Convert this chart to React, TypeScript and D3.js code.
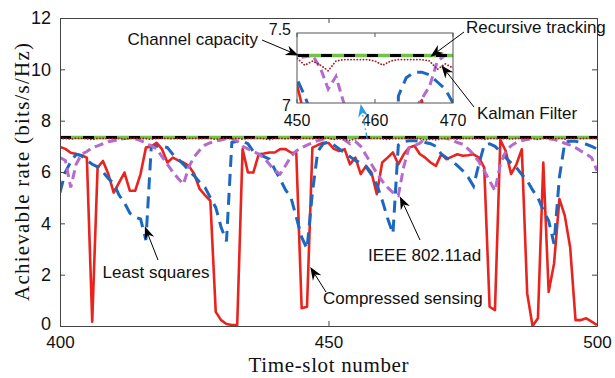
import React, { useEffect, useRef } from "react";
import * as d3 from "d3";

// time slots 400..500
const slots = d3.range(400, 501);

const compressedSensing = [
  6.98, 6.9, 6.75, 6.7, 6.65, 6.56, 0.17, 6.17, 6.43, 5.92,
  5.2, 5.59, 5.98, 5.27, 5.27, 5.92, 6.95, 7.0, 7.14, 6.89,
  6.37, 6.56, 6.45, 6.37, 6.24, 5.92, 5.34, 5.1, 4.88, 0.55,
  0.23, 0.08, 0.04, 0.04, 6.89, 5.98, 5.98, 6.69, 6.72, 6.76,
  6.76, 6.89, 6.89, 6.76, 6.75, 0.69, 0.75, 6.95, 7.05, 7.14,
  7.13, 6.9, 6.82, 6.89, 6.3, 6.56, 5.92, 6.24, 5.98, 5.14,
  6.37, 6.56, 6.76, 6.3, 6.69, 6.95, 7.02, 6.7, 6.56, 6.37,
  6.24, 6.69, 6.5, 6.6, 6.69, 6.63, 6.65, 6.69, 6.56, 6.17,
  0.75, 0.62, 7.25, 6.82, 5.92, 6.3, 6.89, 1.27, 0.0, 0.3,
  6.37, 1.33, 2.43, 4.95, 4.3, 3.07, 0.23, 0.23, 0.3, 0.17,
  0.04,
];

const leastSquares = [
  5.2, 6.0, 6.4, 6.69, 6.63, 6.45, 6.3, 6.2, 6.0, 5.75,
  5.55, 5.1, 4.8, 4.4, 4.24, 4.17, 3.35, 7.0, 7.0, 7.0,
  6.95, 6.69, 6.5, 6.3, 6.05, 5.85, 5.6, 5.4, 5.0, 4.62,
  3.85, 3.3, 7.15, 7.2, 7.2, 7.1, 6.8, 6.7, 6.6, 6.5,
  6.1, 5.72, 5.3, 5.01, 4.24, 3.46, 3.01, 5.2, 6.8, 7.1,
  7.17, 7.05, 6.9, 6.75, 6.6, 6.45, 6.35, 6.2, 5.9, 5.5,
  4.9, 4.2, 3.6, 7.05, 7.18, 7.22, 7.22, 7.2, 7.15, 7.1,
  7.0, 6.7, 6.55, 6.43, 6.25, 6.05, 5.8, 5.45, 6.3, 7.05,
  7.1, 7.0, 6.8, 6.56, 6.35, 6.17, 5.9, 5.66, 5.3, 5.0,
  4.5, 4.1, 3.2, 5.8, 7.15, 7.2, 7.2, 7.15, 7.08, 7.0,
  6.9,
];

const ieee80211ad = [
  6.56, 6.45, 5.4, 6.3, 6.69, 6.8, 6.95, 7.02, 7.1, 7.18,
  7.22, 7.27, 7.3, 7.33, 7.3, 7.22, 7.12, 7.02, 6.9, 6.6,
  6.3, 6.0, 5.75, 5.53, 6.2, 6.6, 6.85, 7.05, 7.14, 7.2,
  7.25, 7.3, 7.3, 7.2, 7.0, 6.9, 6.8, 6.7, 6.55, 6.3,
  6.05, 5.92, 6.25, 6.6, 6.82, 6.95, 7.05, 7.14, 7.22, 7.28,
  7.32, 7.33, 7.34, 7.25, 7.1, 7.19, 7.0, 6.65, 6.3, 5.95,
  5.65, 5.4, 5.2, 5.08, 6.2, 6.95, 7.03, 7.12, 7.3, 7.34,
  7.34, 7.34, 7.3, 7.25, 7.15, 7.08, 6.9, 6.69, 6.4, 6.05,
  5.66, 5.27, 6.3, 6.8, 7.02, 7.15, 7.22, 7.27, 7.3, 7.33,
  7.33, 7.3, 7.27, 7.2, 7.12, 7.05, 6.95, 6.82, 6.7, 6.56,
  6.05,
];

const kalmanFilter = [
  7.3, 7.31, 7.28, 7.31, 7.31, 7.3, 7.26, 7.31, 7.31, 7.31,
  7.3, 7.31, 7.28, 7.31, 7.31, 7.31, 7.3, 7.27, 7.31, 7.31,
  7.31, 7.3, 7.31, 7.28, 7.31, 7.31, 7.3, 7.31, 7.31, 7.27,
  7.31, 7.31, 7.3, 7.31, 7.28, 7.31, 7.31, 7.31, 7.3, 7.26,
  7.31, 7.31, 7.3, 7.31, 7.28, 7.31, 7.31, 7.3, 7.31, 7.31,
  7.32, 7.27, 7.3, 7.27, 7.23, 7.3, 7.31, 7.31, 7.31, 7.31,
  7.3, 7.27, 7.3, 7.31, 7.31, 7.31, 7.31, 7.3, 7.24, 7.28,
  7.25, 7.3, 7.31, 7.31, 7.28, 7.31, 7.31, 7.3, 7.31, 7.27,
  7.31, 7.31, 7.3, 7.31, 7.28, 7.31, 7.31, 7.31, 7.3, 7.27,
  7.31, 7.31, 7.3, 7.31, 7.28, 7.31, 7.31, 7.3, 7.31, 7.31,
  7.3,
];

const recursiveTracking = [
  7.34, 7.34, 7.34, 7.34, 7.34, 7.34, 7.34, 7.34, 7.34, 7.34,
  7.34, 7.34, 7.34, 7.34, 7.34, 7.34, 7.34, 7.34, 7.34, 7.34,
  7.34, 7.34, 7.34, 7.34, 7.34, 7.34, 7.34, 7.34, 7.34, 7.34,
  7.34, 7.34, 7.34, 7.34, 7.34, 7.34, 7.34, 7.34, 7.34, 7.34,
  7.34, 7.34, 7.34, 7.34, 7.34, 7.34, 7.34, 7.34, 7.34, 7.34,
  7.34, 7.34, 7.34, 7.34, 7.34, 7.34, 7.34, 7.34, 7.34, 7.34,
  7.34, 7.34, 7.34, 7.34, 7.34, 7.34, 7.34, 7.34, 7.34, 7.34,
  7.34, 7.34, 7.34, 7.34, 7.34, 7.34, 7.34, 7.34, 7.34, 7.34,
  7.34, 7.34, 7.34, 7.34, 7.34, 7.34, 7.34, 7.34, 7.34, 7.34,
  7.34, 7.34, 7.34, 7.34, 7.34, 7.34, 7.34, 7.34, 7.34, 7.34,
  7.34,
];

const channelCapacity = 7.34;

const xTicks = [400, 450, 500];
const yTicks = [0, 2, 4, 6, 8, 10, 12];
const insetXTicks = [450, 460, 470];
const insetYTicks = [7, 7.5];

const W = 615, H = 378;
const margin = { top: 18, right: 18, bottom: 52, left: 60 };
const inset = { left: 297, top: 33, width: 156, height: 70 };

const SANS = "'Liberation Sans', Arial, sans-serif";
const SERIF = "'Liberation Serif', 'Times New Roman', serif";

function drawSeries(g, xs, ys) {
  const line = d3.line<number>().x((_, i) => xs(slots[i])).y((d) => ys(d));
  g.append("path").attr("d", line(compressedSensing))
    .attr("fill", "none").attr("stroke", "#e8241f").attr("stroke-width", 2.6)
    .attr("stroke-linejoin", "round");
  g.append("path").attr("d", line(leastSquares))
    .attr("fill", "none").attr("stroke", "#1c68c0").attr("stroke-width", 3)
    .attr("stroke-dasharray", "12,7");
  g.append("path").attr("d", line(ieee80211ad))
    .attr("fill", "none").attr("stroke", "#b56acd").attr("stroke-width", 3)
    .attr("stroke-dasharray", "9,5");
  const [d0, d1] = xs.domain();
  g.append("line")
    .attr("x1", xs(d0)).attr("x2", xs(d1))
    .attr("y1", ys(channelCapacity)).attr("y2", ys(channelCapacity))
    .attr("stroke", "#72c247").attr("stroke-width", 3.5);
  g.append("path").attr("d", line(recursiveTracking))
    .attr("fill", "none").attr("stroke", "#000").attr("stroke-width", 3)
    .attr("stroke-dasharray", "11,12");
  g.append("path").attr("d", line(kalmanFilter))
    .attr("fill", "none").attr("stroke", "#a81c1c").attr("stroke-width", 1.8)
    .attr("stroke-linecap", "round").attr("stroke-dasharray", "0.1,3");
}

function arrow(g, x1, y1, x2, y2, color = "#000", width = 1, dash = null) {
  const a = Math.atan2(y2 - y1, x2 - x1);
  const ux = Math.cos(a), uy = Math.sin(a);
  const px = -uy, py = ux;
  const len = 13, half = 5, notch = 9;
  const nx = x2 - ux * notch, ny = y2 - uy * notch;
  const ln = g.append("line")
    .attr("x1", x1).attr("y1", y1).attr("x2", nx).attr("y2", ny)
    .attr("stroke", color).attr("stroke-width", width);
  if (dash) ln.attr("stroke-dasharray", dash);
  const pts = [
    [x2, y2],
    [x2 - ux * len + px * half, y2 - uy * len + py * half],
    [nx, ny],
    [x2 - ux * len - px * half, y2 - uy * len - py * half],
  ];
  g.append("polygon").attr("points", pts.map((p) => p.join(",")).join(" ")).attr("fill", color);
}

function label(g, x, y, text, anchor = "start") {
  g.append("text").attr("x", x).attr("y", y).attr("text-anchor", anchor)
    .attr("font-family", SANS).attr("font-size", 17).attr("fill", "#111").text(text);
}

export default function App() {
  const ref = useRef<SVGSVGElement>(null);

  useEffect(() => {
    const svg = d3.select(ref.current);
    svg.selectAll("*").remove();

    const x = d3.scaleLinear().domain([400, 500]).range([margin.left, W - margin.right]);
    const y = d3.scaleLinear().domain([0, 12]).range([H - margin.bottom, margin.top]);

    const defs = svg.append("defs");
    defs.append("clipPath").attr("id", "clip-main").append("rect")
      .attr("x", margin.left).attr("y", margin.top)
      .attr("width", W - margin.left - margin.right).attr("height", H - margin.top - margin.bottom);
    defs.append("clipPath").attr("id", "clip-inset").append("rect")
      .attr("x", inset.left).attr("y", inset.top)
      .attr("width", inset.width).attr("height", inset.height);

    svg.append("rect").attr("width", W).attr("height", H).attr("fill", "#fff");

    drawSeries(svg.append("g").attr("clip-path", "url(#clip-main)"), x, y);

    // axes (MATLAB box with inward ticks)
    const styleAxis = (g, labels, size = 18) => {
      g.selectAll("path").attr("stroke", "#444");
      g.selectAll("line").attr("stroke", "#444");
      g.selectAll("text").attr("font-family", SANS).attr("font-size", size).attr("fill", "#111");
      if (!labels) g.selectAll("text").remove();
    };
    const bottom = svg.append("g").attr("transform", `translate(0,${H - margin.bottom})`)
      .call(d3.axisBottom(x).tickValues(xTicks).tickSizeInner(-5).tickSizeOuter(0).tickPadding(10));
    styleAxis(bottom, true, 17);
    const top = svg.append("g").attr("transform", `translate(0,${margin.top})`)
      .call(d3.axisTop(x).tickValues(xTicks).tickSizeInner(-5).tickSizeOuter(0));
    styleAxis(top, false);
    const left = svg.append("g").attr("transform", `translate(${margin.left},0)`)
      .call(d3.axisLeft(y).tickValues(yTicks).tickSizeInner(-5).tickSizeOuter(0).tickPadding(9));
    styleAxis(left, true, 18);
    left.selectAll(".tick text").filter((d) => d === 0).attr("dy", "0.2em");
    const right = svg.append("g").attr("transform", `translate(${W - margin.right},0)`)
      .call(d3.axisRight(y).tickValues(yTicks).tickSizeInner(-5).tickSizeOuter(0));
    styleAxis(right, false);

    svg.append("text")
      .attr("x", (margin.left + W - margin.right) / 2).attr("y", 372)
      .attr("text-anchor", "middle").attr("font-family", SERIF).attr("font-size", 21)
      .attr("fill", "#111")
      .attr("textLength", 160).attr("lengthAdjust", "spacing")
      .text("Time-slot number");
    svg.append("text")
      .attr("transform", `translate(29,${(margin.top + H - margin.bottom) / 2}) rotate(-90)`)
      .attr("text-anchor", "middle").attr("font-family", SERIF).attr("font-size", 21)
      .attr("fill", "#111")
      .attr("textLength", 258).attr("lengthAdjust", "spacing")
      .text("Achievable rate (bits/s/Hz)");

    // inset zoom 450-470
    const xi = d3.scaleLinear().domain([450, 470]).range([inset.left, inset.left + inset.width]);
    const yi = d3.scaleLinear().domain([7, 7.5]).range([inset.top + inset.height, inset.top]);
    svg.append("rect").attr("x", inset.left).attr("y", inset.top)
      .attr("width", inset.width).attr("height", inset.height).attr("fill", "#fff");
    drawSeries(svg.append("g").attr("clip-path", "url(#clip-inset)"), xi, yi);
    svg.append("rect").attr("x", inset.left).attr("y", inset.top)
      .attr("width", inset.width).attr("height", inset.height)
      .attr("fill", "none").attr("stroke", "#555").attr("stroke-width", 1);
    const ig = svg.append("g");
    insetXTicks.forEach((t) => {
      ig.append("line").attr("x1", xi(t)).attr("x2", xi(t))
        .attr("y1", inset.top).attr("y2", inset.top + 4).attr("stroke", "#555");
      ig.append("line").attr("x1", xi(t)).attr("x2", xi(t))
        .attr("y1", inset.top + inset.height).attr("y2", inset.top + inset.height - 4).attr("stroke", "#555");
      ig.append("text").attr("x", xi(t)).attr("y", inset.top + inset.height + 23)
        .attr("text-anchor", "middle").attr("font-family", SANS).attr("font-size", 16)
        .attr("fill", "#111").text(String(t));
    });
    insetYTicks.forEach((v) => {
      ig.append("text").attr("x", inset.left - 6).attr("y", yi(v) + (v === 7 ? 8 : 2))
        .attr("text-anchor", "end").attr("font-family", SANS).attr("font-size", 16)
        .attr("fill", "#111").text(String(v));
    });

    // blue dash-dot pointer from main curve to the inset
    arrow(svg, x(457.2), y(7.3), x(456.0), yi(7) + 1, "#2c9be2", 1.4, "6,3,1.5,3");

    // annotations
    const ag = svg.append("g");
    arrow(ag, 262, 40, xi(450.2), yi(channelCapacity));
    label(ag, 258, 45, "Channel capacity", "end");
    arrow(ag, 464, 32, xi(467.1), yi(7.33));
    label(ag, 466, 33, "Recursive tracking");
    arrow(ag, 474, 107, xi(468.5), yi(7.27));
    label(ag, 477, 119, "Kalman Filter");
    arrow(ag, 158, 260, x(415.8), y(3.88));
    label(ag, 156, 278, "Least squares", "middle");
    arrow(ag, 326, 292, x(446.6), y(2.3));
    label(ag, 323, 304, "Compressed sensing");
    arrow(ag, 420, 240, x(463.3), y(5.05));
    label(ag, 368, 261, "IEEE 802.11ad");
  }, []);

  return (
    <svg ref={ref} width={W} height={H}
      style={{ position: "absolute", left: 0, top: 0, background: "#fff" }} />
  );
}
